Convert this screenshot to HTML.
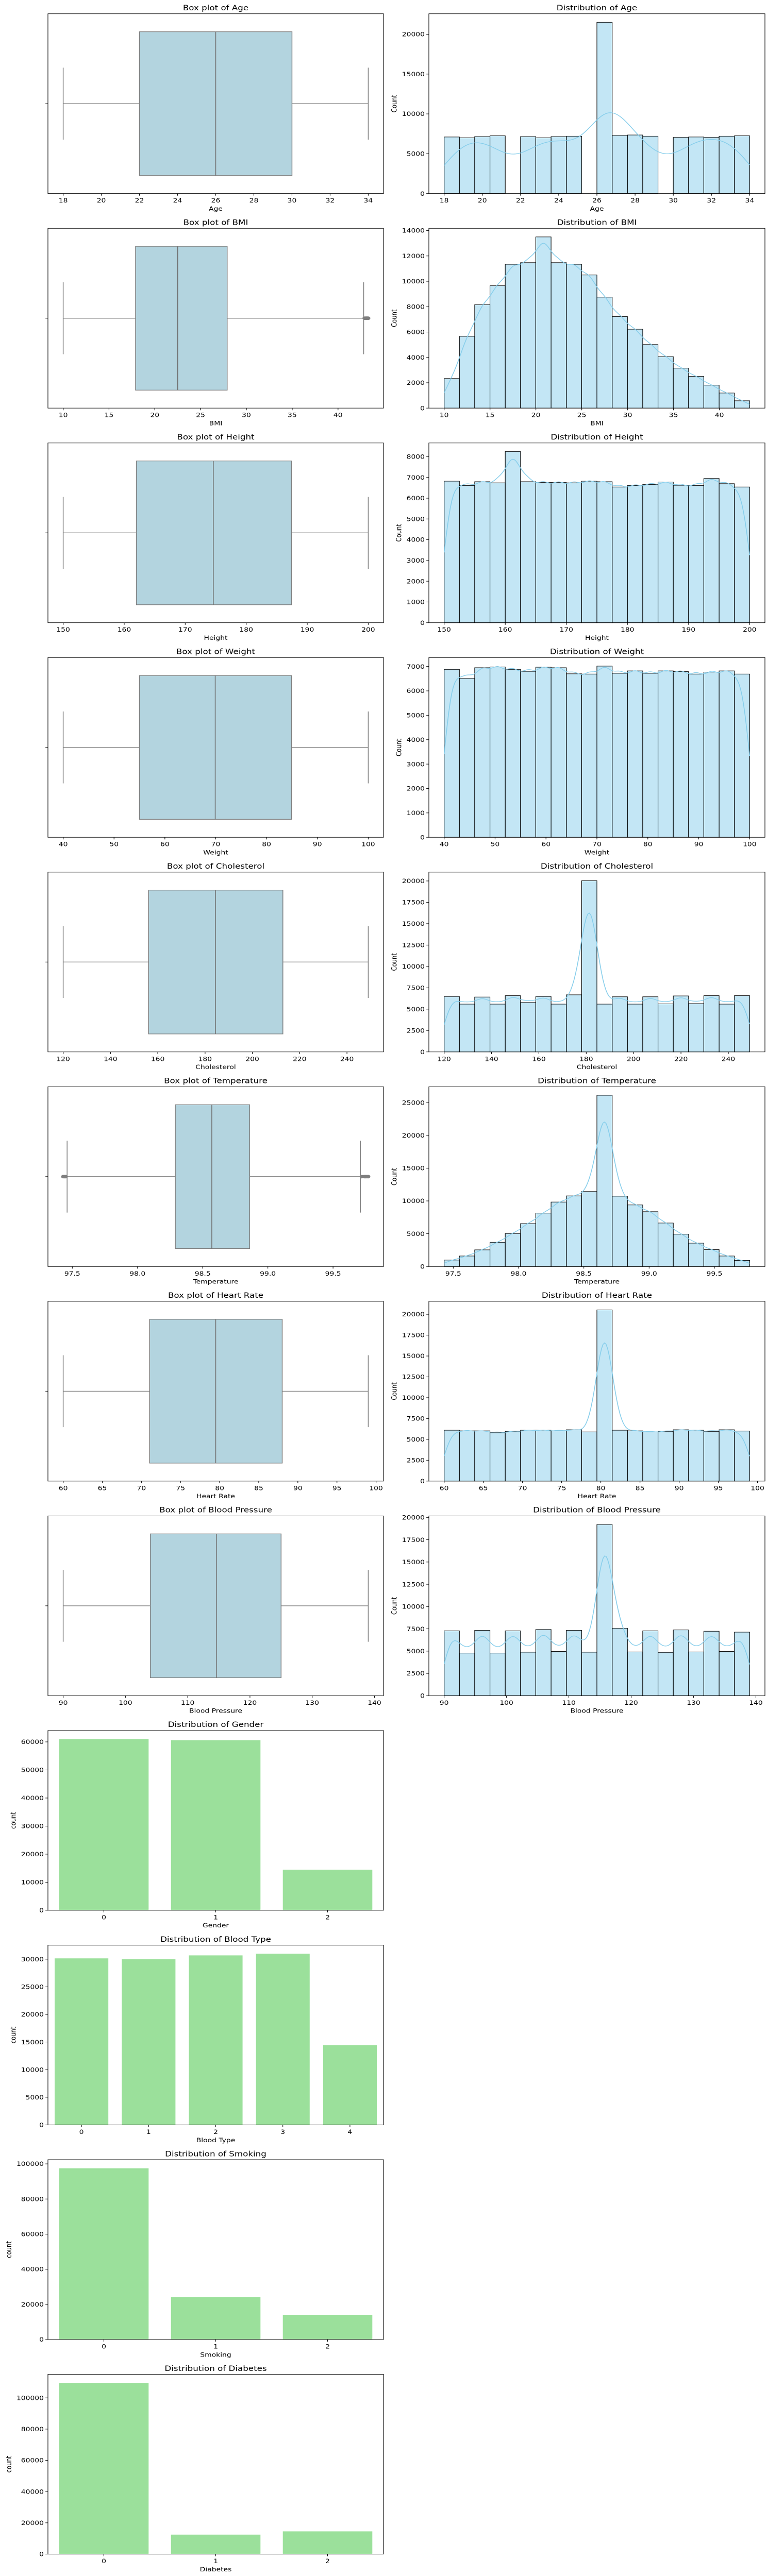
<!DOCTYPE html>
<html><head><meta charset="utf-8"><title>Health data distributions</title>
<style>
html,body{margin:0;padding:0;background:#fff;overflow:hidden;width:100%;height:100%;}
svg{position:absolute;left:0;top:0;display:block;width:100vw;height:100vh;font-family:"DejaVu Sans","Liberation Sans",sans-serif;}
</style></head>
<body>
<svg id="fig" xmlns="http://www.w3.org/2000/svg" viewBox="0 0 1488 5990" preserveAspectRatio="none"></svg>
<script>
// ---------- data ----------
const numericNames = ["Age","BMI","Height","Weight","Cholesterol","Temperature","Heart Rate","Blood Pressure"];
const dataMin = [18, 10, 150, 40, 120, 97.43, 60, 90];
const dataMax = [34, 43.3, 200, 100, 249, 99.77, 99, 139];

const ageCounts = [7100,7000,7150,7250,0,7150,7000,7150,7200,0,21500,7300,7350,7200,0,7050,7100,7050,7200,7250];
const bmiCounts = [2330,5660,8160,9650,11340,11470,13500,11470,11340,10500,8750,7220,6220,5010,4060,3150,2500,1810,1190,580];
const heightCounts = [6820,6610,6795,6740,8250,6795,6755,6755,6740,6820,6795,6540,6610,6660,6780,6620,6610,6950,6700,6540];
const weightCounts = [6880,6510,6950,6980,6880,6800,6970,6950,6700,6690,7015,6720,6820,6720,6820,6790,6690,6770,6820,6690];
const cholCounts = [6480,5590,6420,5590,6580,5780,6480,5590,6680,20030,5590,6450,5590,6450,5620,6550,5650,6580,5590,6580];
const tempCounts = [980,1600,2540,3690,5030,6540,8140,9830,10770,11430,26110,10720,9390,8360,6630,4940,3560,2580,1600,930];
const hrCounts = [6100,6030,6030,5800,5960,6100,6100,6030,6160,5900,20530,6100,6030,5900,5960,6160,6100,5960,6160,6000];
const bpCounts = [7280,4780,7330,4780,7280,4880,7430,4960,7330,4880,19210,7570,4910,7280,4860,7380,4910,7230,4960,7130];
const histCounts = [ageCounts,bmiCounts,heightCounts,weightCounts,cholCounts,tempCounts,hrCounts,bpCounts];

// box stats: [whiskerLow, q1, median, q3, whiskerHigh]
const ageBox = [18,22,26,30,34];
const bmiBox = [10,17.9,22.5,27.9,42.8];
const heightBox = [150,162,174.6,187.4,200];
const weightBox = [40,55,69.9,84.9,100];
const cholBox = [120,156.1,184.4,212.9,249];
const tempBox = [97.46,98.29,98.57,98.86,99.71];
const hrBox = [60,71.05,79.5,88,99];
const bpBox = [90,104,114.6,125,139];
const boxStats = [ageBox,bmiBox,heightBox,weightBox,cholBox,tempBox,hrBox,bpBox];

const bmiOutliers = [42.9,43.0,43.05,43.1,43.15,43.2,43.25,43.3];
const tempOutliers = [97.43,97.44,97.45,99.72,99.74,99.75,99.76,99.77];
const outliers = [[],bmiOutliers,[],[],[],tempOutliers,[],[]];

const ageXTicks = [18,20,22,24,26,28,30,32,34];
const bmiXTicks = [10,15,20,25,30,35,40];
const heightXTicks = [150,160,170,180,190,200];
const weightXTicks = [40,50,60,70,80,90,100];
const cholXTicks = [120,140,160,180,200,220,240];
const tempXTicks = [97.5,98.0,98.5,99.0,99.5];
const hrXTicks = [60,65,70,75,80,85,90,95,100];
const bpXTicks = [90,100,110,120,130,140];
const xTicks = [ageXTicks,bmiXTicks,heightXTicks,weightXTicks,cholXTicks,tempXTicks,hrXTicks,bpXTicks];
const xTickDecimals = [0,0,0,0,0,1,0,0];

const ageYTicks = [0,5000,10000,15000,20000];
const bmiYTicks = [0,2000,4000,6000,8000,10000,12000,14000];
const heightYTicks = [0,1000,2000,3000,4000,5000,6000,7000,8000];
const weightYTicks = [0,1000,2000,3000,4000,5000,6000,7000];
const cholYTicks = [0,2500,5000,7500,10000,12500,15000,17500,20000];
const tempYTicks = [0,5000,10000,15000,20000,25000];
const hrYTicks = [0,2500,5000,7500,10000,12500,15000,17500,20000];
const bpYTicks = [0,2500,5000,7500,10000,12500,15000,17500,20000];
const histYTicks = [ageYTicks,bmiYTicks,heightYTicks,weightYTicks,cholYTicks,tempYTicks,hrYTicks,bpYTicks];

const catNames = ["Gender","Blood Type","Smoking","Diabetes"];
const genderCats = ["0","1","2"];
const genderCounts = [61000,60600,14470];
const bloodCats = ["0","1","2","3","4"];
const bloodCounts = [30150,30000,30690,31000,14450];
const smokingCats = ["0","1","2"];
const smokingCounts = [97500,24200,14060];
const diabetesCats = ["0","1","2"];
const diabetesCounts = [109600,12430,14530];
const catCategories = [genderCats,bloodCats,smokingCats,diabetesCats];
const catCounts = [genderCounts,bloodCounts,smokingCounts,diabetesCounts];
const genderYTicks = [0,10000,20000,30000,40000,50000,60000];
const bloodYTicks = [0,5000,10000,15000,20000,25000,30000];
const smokingYTicks = [0,20000,40000,60000,80000,100000];
const diabetesYTicks = [0,20000,40000,60000,80000,100000];
const catYTicks = [genderYTicks,bloodYTicks,smokingYTicks,diabetesYTicks];

// ---------- drawing ----------
const NS = "http://www.w3.org/2000/svg";
const svg = document.getElementById("fig");
const ROW0 = 32, PITCH = 499, AH = 418;
const LX = [93, 744], RX = [832, 1484];
const TICK_FS = 13.9, TITLE_FS = 16.7;
const kdeBwFactor = [1.3, 0.55, 0.55, 0.55, 0.55, 0.55, 0.55, 0.55];

function mk(tag, attrs, parent){
  const el = document.createElementNS(NS, tag);
  for (const k in attrs) el.setAttribute(k, attrs[k]);
  parent.appendChild(el);
  return el;
}
function slug(s){ return s.toLowerCase().replace(/\s+/g,'-'); }

function frame(g, x0, x1, top, name){
  const r = mk('rect', {x:x0, y:top, width:x1-x0, height:AH, fill:'none', stroke:'#000', 'stroke-width':1.1}, g);
  
  
}
function title(g, x0, x1, top, text, name){
  const t = mk('text', {x:(x0+x1)/2, y:top-8, 'text-anchor':'middle', 'font-size':TITLE_FS, fill:'#000'}, g);
  t.textContent = text;
  
  
}
function xTickMarks(g, sx, ticks, dec, top, name, labels){
  const bottom = top + AH;
  ticks.forEach((v,i) => {
    const x = sx(v);
    const ln = mk('line', {x1:x, x2:x, y1:bottom, y2:bottom+4.9, stroke:'#000', 'stroke-width':1.1}, g);
    
    
    const t = mk('text', {x:x, y:bottom+21, 'text-anchor':'middle', 'font-size':TICK_FS, fill:'#000'}, g);
    t.textContent = labels ? labels[i] : v.toFixed(dec);
    
    
  });
}
function xLabel(g, x0, x1, top, text, name){
  const t = mk('text', {x:(x0+x1)/2, y:top+AH+40, 'text-anchor':'middle', 'font-size':TICK_FS, fill:'#000'}, g);
  t.textContent = text;
  
  
}
function yTickMarks(g, sy, ticks, x0, name){
  let maxLen = 0;
  ticks.forEach(v => {
    const y = sy(v);
    const ln = mk('line', {x1:x0-4.9, x2:x0, y1:y, y2:y, stroke:'#000', 'stroke-width':1.1}, g);
    
    
    const t = mk('text', {x:x0-8, y:y+5, 'text-anchor':'end', 'font-size':TICK_FS, fill:'#000'}, g);
    t.textContent = String(v);
    
    
    maxLen = Math.max(maxLen, String(v).length);
  });
  return maxLen;
}
function yLabel(g, x0, top, maxLen, text, name){
  const x = x0 - 8 - maxLen*8.85 - 10;
  const y = top + AH/2;
  const t = mk('text', {x:x, y:y, 'text-anchor':'middle', 'font-size':TICK_FS, fill:'#000', transform:'rotate(-90 '+x+' '+y+')'}, g);
  t.textContent = text;
  
  
}

// Box plots + histograms
numericNames.forEach((nm, i) => {
  const top = ROW0 + PITCH*i;
  const key = slug(nm);
  const pad = (dataMax[i]-dataMin[i])*0.05;
  const xmin = dataMin[i]-pad, xmax = dataMax[i]+pad;

  // ---- box plot ----
  const gb = mk('g', {}, svg);
  
  
  const sxL = v => LX[0] + (v - xmin)/(xmax - xmin)*(LX[1]-LX[0]);
  const syB = v => top + (v + 0.5)*AH;
  const st = boxStats[i];
  const cy = syB(0);
  const wl = mk('line', {x1:sxL(st[0]), x2:sxL(st[1]), y1:cy, y2:cy, stroke:'#7f7f7f', 'stroke-width':1.5}, gb);
  
  
  const wh = mk('line', {x1:sxL(st[3]), x2:sxL(st[4]), y1:cy, y2:cy, stroke:'#7f7f7f', 'stroke-width':1.5}, gb);
  
  
  [st[0], st[4]].forEach(v => {
    const c = mk('line', {x1:sxL(v), x2:sxL(v), y1:syB(-0.2), y2:syB(0.2), stroke:'#7f7f7f', 'stroke-width':1.5}, gb);
    
    
  });
  const bx = mk('rect', {x:sxL(st[1]), y:syB(-0.4), width:sxL(st[3])-sxL(st[1]), height:syB(0.4)-syB(-0.4), fill:'#b3d4df', stroke:'#7f7f7f', 'stroke-width':1.5}, gb);
  
  
  const md = mk('line', {x1:sxL(st[2]), x2:sxL(st[2]), y1:syB(-0.4), y2:syB(0.4), stroke:'#6e6e6e', 'stroke-width':1.5}, gb);
  
  
  outliers[i].forEach(v => {
    const o = mk('circle', {cx:sxL(v), cy:cy, r:3.6, fill:'#7f7f7f', stroke:'#7f7f7f'}, gb);
    
    
  });
  frame(gb, LX[0], LX[1], top, key + '-box-plot');
  title(gb, LX[0], LX[1], top, 'Box plot of ' + nm, key + '-box-plot');
  xTickMarks(gb, sxL, xTicks[i], xTickDecimals[i], top, key + '-box-plot');
  xLabel(gb, LX[0], LX[1], top, nm, key + '-box-plot');
  const yt = mk('line', {x1:LX[0]-4.9, x2:LX[0], y1:cy, y2:cy, stroke:'#000', 'stroke-width':1.1}, gb);
  
  

  // ---- histogram ----
  const gh = mk('g', {}, svg);
  
  
  const counts = histCounts[i];
  const ymax = Math.max(...counts)*1.05;
  const sxR = v => RX[0] + (v - xmin)/(xmax - xmin)*(RX[1]-RX[0]);
  const syH = v => top + AH - v/ymax*AH;
  const nb = counts.length;
  const bw = (dataMax[i]-dataMin[i])/nb;
  counts.forEach((c, k) => {
    if (c <= 0) return;
    const a = dataMin[i] + k*bw;
    const r = mk('rect', {x:sxR(a), y:syH(c), width:sxR(a+bw)-sxR(a), height:syH(0)-syH(c), fill:'#87ceeb', 'fill-opacity':0.5, stroke:'#000', 'stroke-width':1.1}, gh);
    
    
  });
  let N = 0, mean = 0;
  counts.forEach((c,k) => { N += c; mean += c*(dataMin[i]+(k+0.5)*bw); });
  mean /= N;
  let vr = 0;
  counts.forEach((c,k) => { const d = dataMin[i]+(k+0.5)*bw - mean; vr += c*d*d; });
  const sd = Math.sqrt(vr/N);
  const h = Math.max(sd*Math.pow(N, -0.2), bw*kdeBwFactor[i]);
  const pts = [];
  const steps = 200;
  for (let s = 0; s <= steps; s++){
    const x = dataMin[i] + (dataMax[i]-dataMin[i])*s/steps;
    let d = 0;
    counts.forEach((c,k) => {
      const z = (x - (dataMin[i]+(k+0.5)*bw))/h;
      d += c*Math.exp(-0.5*z*z);
    });
    d = d/(N*h*Math.sqrt(2*Math.PI));
    pts.push(sxR(x).toFixed(2) + ',' + syH(d*N*bw).toFixed(2));
  }
  const kde = mk('polyline', {points:pts.join(' '), fill:'none', stroke:'#87ceeb', 'stroke-width':1.6}, gh);
  
  
  frame(gh, RX[0], RX[1], top, key + '-histogram');
  title(gh, RX[0], RX[1], top, 'Distribution of ' + nm, key + '-histogram');
  xTickMarks(gh, sxR, xTicks[i], xTickDecimals[i], top, key + '-histogram');
  xLabel(gh, RX[0], RX[1], top, nm, key + '-histogram');
  const ml = yTickMarks(gh, syH, histYTicks[i], RX[0], key + '-histogram');
  yLabel(gh, RX[0], top, ml, 'Count', key + '-histogram');
});

// Count plots
catNames.forEach((nm, j) => {
  const top = ROW0 + PITCH*(8 + j);
  const key = slug(nm);
  const g = mk('g', {}, svg);
  
  
  const cats = catCategories[j], vals = catCounts[j];
  const n = cats.length;
  const ymax = Math.max(...vals)*1.05;
  const sx = v => LX[0] + (v + 0.5)/n*(LX[1]-LX[0]);
  const sy = v => top + AH - v/ymax*AH;
  vals.forEach((v, k) => {
    const r = mk('rect', {x:sx(k-0.4), y:sy(v), width:sx(k+0.4)-sx(k-0.4), height:sy(0)-sy(v), fill:'#9be09b'}, g);
    
    
  });
  frame(g, LX[0], LX[1], top, key + '-count-plot');
  title(g, LX[0], LX[1], top, 'Distribution of ' + nm, key + '-count-plot');
  xTickMarks(g, sx, cats.map((c,k)=>k), 0, top, key + '-count-plot', cats);
  xLabel(g, LX[0], LX[1], top, nm, key + '-count-plot');
  const ml = yTickMarks(g, sy, catYTicks[j], LX[0], key + '-count-plot');
  yLabel(g, LX[0], top, ml, 'count', key + '-count-plot');
});
</script>
</body></html>
